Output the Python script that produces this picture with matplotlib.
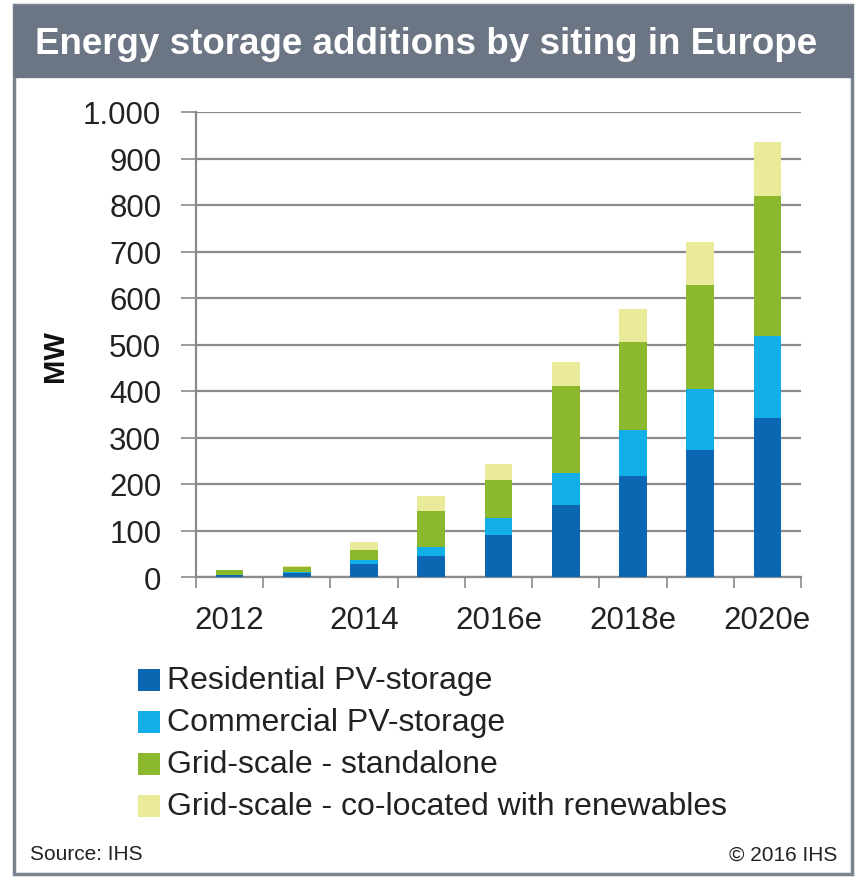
import matplotlib.pyplot as plt
import matplotlib.patches as patches
import numpy as np

plt.rcParams['font.family'] = ['Liberation Sans', 'DejaVu Sans']

years = ['2012', '2013', '2014', '2015', '2016e', '2017e', '2018e', '2019e', '2020e']
residential = [4, 9, 29, 46, 90, 155, 217, 274, 343]
commercial = [1, 2, 8, 18, 36, 69, 100, 130, 175]
standalone = [9, 10, 20, 79, 83, 186, 188, 225, 301]
colocated = [2, 3, 19, 31, 34, 53, 71, 91, 116]

series = [residential, commercial, standalone, colocated]
labels = ['Residential PV-storage', 'Commercial PV-storage',
          'Grid-scale - standalone', 'Grid-scale - co-located with renewables']
colors = ['#0b67b2', '#12aee8', '#8cb82e', '#e9ea9a']

W, H = 856, 878
fig = plt.figure(figsize=(W / 100, H / 100), dpi=100)
fig.patch.set_facecolor('white')

# frame and title band
fig.patches.append(patches.Rectangle((14 / W, 3 / H), 838 / W, 869 / H,
                                     transform=fig.transFigure, fill=False,
                                     ec='#7a8490', lw=2.5))
fig.patches.append(patches.Rectangle((14 / W, 1 - 78 / H), 838 / W, 71 / H,
                                     transform=fig.transFigure, fc='#6b7583',
                                     ec='#6b7583', lw=1))
fig.text(426 / W, 1 - 45 / H, 'Energy storage additions by siting in Europe',
         ha='center', va='center', color='white', fontsize=26.5, fontweight='bold')

ax = fig.add_axes([196 / W, 300 / H, 605 / W, 465 / H])
x = np.arange(len(years))
bottom = np.zeros(len(years))
for vals, col in zip(series, colors):
    ax.bar(x, vals, width=0.41, bottom=bottom, color=col, zorder=3)
    bottom += np.array(vals)

ax.set_xlim(-0.5, len(years) - 0.5)
ax.set_ylim(0, 1000)
yt = np.arange(0, 1001, 100)
ax.set_yticks(yt)
ax.set_yticklabels([f'{v:,}'.replace(',', '.') for v in yt], fontsize=22.5, color='#222222')
ax.yaxis.grid(True, color='#8a8a8a', lw=1.6, zorder=0)
ax.tick_params(axis='y', length=11, width=1.2, color='#8a8a8a', pad=14)

ax.set_xticks(x[::2])
ax.set_xticklabels(years[::2], fontsize=22.5, color='#222222')
ax.tick_params(axis='x', which='major', length=0, pad=20)
ax.set_xticks(np.arange(-0.5, len(years)), minor=True)
ax.tick_params(axis='x', which='minor', length=8, width=1.2, color='#8a8a8a')

for s in ['top', 'right']:
    ax.spines[s].set_visible(False)
for s in ['left', 'bottom']:
    ax.spines[s].set_color('#8a8a8a')
    ax.spines[s].set_linewidth(1.6)

fig.text(55 / W, 1 - 356 / H, 'MW', rotation=90, ha='center', va='center',
         fontsize=21, fontweight='bold', color='#111111')

# legend
for i, (lab, col) in enumerate(zip(labels, colors)):
    yc = 1 - (681 + i * 42) / H
    fig.patches.append(patches.Rectangle((138 / W, yc - 11 / H), 22 / W, 22 / H,
                                         transform=fig.transFigure, fc=col, ec='none'))
    fig.text(167 / W, yc, lab, ha='left', va='center', fontsize=23, color='#222222')

fig.text(30 / W, 1 - 855 / H, 'Source: IHS', ha='left', va='center', fontsize=15, color='#222222')
fig.text(837 / W, 1 - 855 / H, '\u00a9 2016 IHS', ha='right', va='center', fontsize=15, color='#222222')

plt.savefig('out.png', dpi=100)
